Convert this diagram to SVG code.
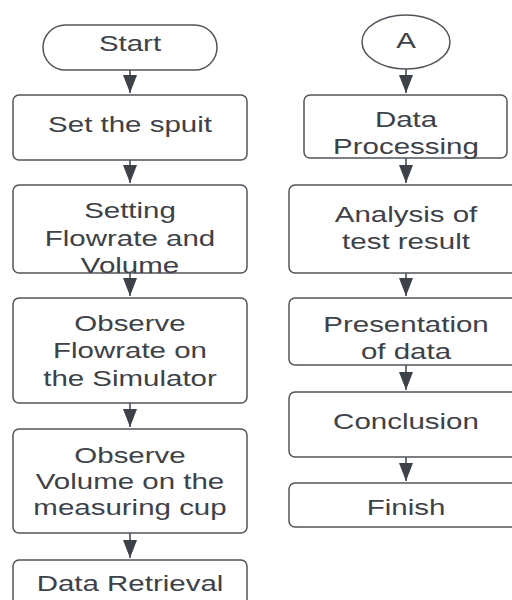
<svg xmlns="http://www.w3.org/2000/svg" width="512" height="600" viewBox="0 0 512 600">
  <style>
    .box { fill: #ffffff; stroke: #50555c; stroke-width: 1.5; }
    .lbl { font-family: "Liberation Sans", Arial, sans-serif; font-size: 22px; fill: #3d4148; text-anchor: middle; }
    .conn { stroke: #3d4148; stroke-width: 1.5; fill: none; marker-end: url(#arr); }
  </style>
  <defs>
    <marker id="arr" viewBox="0 0 18 14" refX="18" refY="7" markerWidth="18" markerHeight="14" markerUnits="userSpaceOnUse" orient="auto">
      <path d="M0,0 L18,7 L0,14 Z" fill="#3d4148"/>
    </marker>
  </defs>
  <rect width="512" height="600" fill="#ffffff"/>

  <g id="connectors">
    <line class="conn" x1="130" y1="70" x2="130" y2="93"/>
    <line class="conn" x1="130" y1="160" x2="130" y2="183"/>
    <line class="conn" x1="130" y1="273" x2="130" y2="296"/>
    <line class="conn" x1="130" y1="403" x2="130" y2="427"/>
    <line class="conn" x1="130" y1="533" x2="130" y2="558"/>
    <line class="conn" x1="406" y1="69" x2="406" y2="93"/>
    <line class="conn" x1="406" y1="158" x2="406" y2="183"/>
    <line class="conn" x1="406" y1="273" x2="406" y2="296"/>
    <line class="conn" x1="406" y1="365" x2="406" y2="390"/>
    <line class="conn" x1="406" y1="457" x2="406" y2="481"/>
  </g>

  <g id="start">
    <rect class="box" x="43" y="25" width="174" height="45" rx="22.5"/>
    <text class="lbl" transform="translate(130,51) scale(1.34,1)">Start</text>
  </g>
  <g id="set-spuit">
    <rect class="box" x="13" y="95" width="234" height="65" rx="6"/>
    <text class="lbl" transform="translate(130,132) scale(1.34,1)">Set the spuit</text>
  </g>
  <g id="setting-flowrate">
    <rect class="box" x="13" y="185" width="234" height="88" rx="6"/>
    <text class="lbl" transform="translate(130,218) scale(1.34,1)">Setting</text>
    <text class="lbl" transform="translate(130,246) scale(1.34,1)">Flowrate and</text>
    <text class="lbl" transform="translate(130,273) scale(1.34,1)">Volume</text>
  </g>
  <g id="observe-flowrate">
    <rect class="box" x="13" y="298" width="234" height="105" rx="6"/>
    <text class="lbl" transform="translate(130,331) scale(1.34,1)">Observe</text>
    <text class="lbl" transform="translate(130,358) scale(1.34,1)">Flowrate on</text>
    <text class="lbl" transform="translate(130,386) scale(1.34,1)">the Simulator</text>
  </g>
  <g id="observe-volume">
    <rect class="box" x="13" y="429" width="234" height="104" rx="6"/>
    <text class="lbl" transform="translate(130,463) scale(1.34,1)">Observe</text>
    <text class="lbl" transform="translate(130,489) scale(1.34,1)">Volume on the</text>
    <text class="lbl" transform="translate(130,515) scale(1.34,1)">measuring cup</text>
  </g>
  <g id="data-retrieval">
    <rect class="box" x="13" y="560" width="234" height="70" rx="6"/>
    <text class="lbl" transform="translate(130,591) scale(1.34,1)">Data Retrieval</text>
  </g>

  <g id="connector-a">
    <ellipse class="box" cx="406" cy="42" rx="44" ry="27"/>
    <text class="lbl" transform="translate(406,48) scale(1.34,1)">A</text>
  </g>
  <g id="data-processing">
    <rect class="box" x="304" y="95" width="203" height="63" rx="6"/>
    <text class="lbl" transform="translate(406,127) scale(1.34,1)">Data</text>
    <text class="lbl" transform="translate(406,154) scale(1.34,1)">Processing</text>
  </g>
  <g id="analysis">
    <rect class="box" x="289" y="185" width="234" height="88" rx="6"/>
    <text class="lbl" transform="translate(406,222) scale(1.34,1)">Analysis of</text>
    <text class="lbl" transform="translate(406,249) scale(1.34,1)">test result</text>
  </g>
  <g id="presentation">
    <rect class="box" x="289" y="298" width="234" height="67" rx="6"/>
    <text class="lbl" transform="translate(406,332) scale(1.34,1)">Presentation</text>
    <text class="lbl" transform="translate(406,359) scale(1.34,1)">of data</text>
  </g>
  <g id="conclusion">
    <rect class="box" x="289" y="392" width="234" height="65" rx="6"/>
    <text class="lbl" transform="translate(406,429) scale(1.34,1)">Conclusion</text>
  </g>
  <g id="finish">
    <rect class="box" x="289" y="483" width="234" height="44" rx="6"/>
    <text class="lbl" transform="translate(406,515) scale(1.34,1)">Finish</text>
  </g>
</svg>
